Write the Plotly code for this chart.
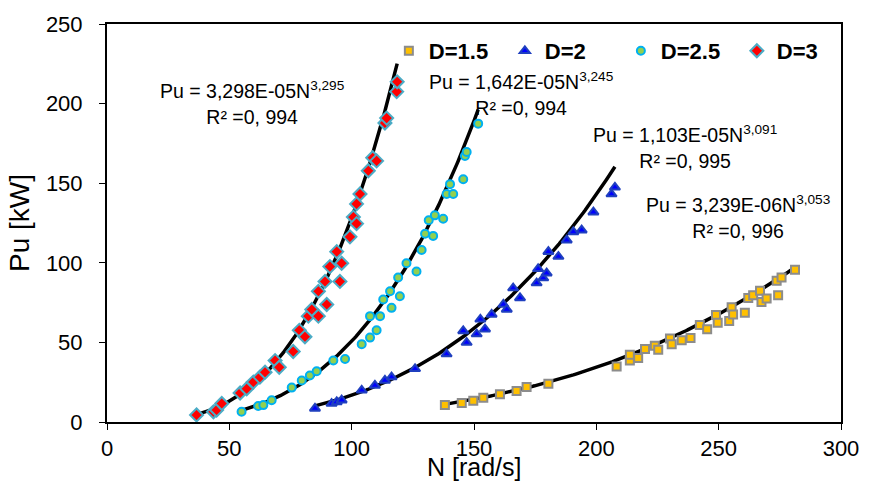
import numpy as np
import plotly.graph_objects as go

# ---- data ----
n_15 = [138.1, 145.0, 149.7, 153.8, 160.6, 167.4, 171.5, 180.4, 208.3, 213.7, 213.7, 217.1, 219.9,
        223.9, 225.3, 230.1, 230.8, 234.9, 238.5, 242.3, 245.3, 248.9, 249.6, 254.3, 255.3, 255.9,
        260.7, 262.1, 264.1, 266.9, 267.5, 269.6, 274.3, 273.7, 275.7, 281.2]
p_15 = [10.6, 12.0, 13.3, 15.3, 17.4, 19.5, 22.0, 24.0, 34.8, 38.6, 42.3, 40.2, 45.8,
        47.9, 45.4, 52.4, 48.9, 51.4, 52.7, 60.9, 58.2, 67.2, 62.4, 63.4, 72.1, 67.6,
        68.6, 77.9, 79.6, 82.5, 75.4, 77.5, 79.6, 88.7, 90.8, 95.6]

n_2 = [85.0, 91.8, 93.9, 95.9, 104.1, 109.5, 113.6, 116.3, 125.9, 138.8, 145.6, 147.0, 151.1,
       152.6, 154.5, 157.2, 162.0, 163.4, 166.0, 168.8, 175.6, 176.2, 178.3, 179.7, 180.4,
       184.5, 187.9, 190.6, 194.0, 198.8, 206.2, 207.6]
p_2 = [8.5, 11.6, 12.6, 13.7, 19.9, 23.0, 26.1, 28.2, 33.4, 42.7, 57.2, 49.9, 55.2,
       64.5, 58.3, 67.6, 73.8, 70.7, 84.1, 77.9, 87.3, 96.2, 90.4, 93.5, 107.0,
       103.9, 114.2, 119.4, 120.5, 131.8, 143.2, 147.4]

n_25 = [55.0, 61.8, 63.9, 67.3, 75.5, 79.6, 82.9, 85.7, 92.5, 97.3, 104.1, 107.5, 107.5, 110.2,
        111.6, 112.9, 115.7, 116.3, 119.7, 119.0, 122.4, 126.5, 128.6, 130.0, 131.5, 134.0,
        133.3, 137.4, 138.8, 140.2, 141.5, 145.6, 146.3, 147.0, 151.7]
p_25 = [6.4, 10.0, 10.6, 13.7, 21.6, 26.1, 29.2, 31.9, 38.6, 39.6, 48.9, 53.0, 66.5, 57.6,
        66.5, 76.9, 82.1, 71.7, 79.0, 90.8, 99.7, 94.5, 108.0, 118.3, 126.7, 129.8,
        116.9, 127.7, 143.2, 149.4, 143.2, 152.5, 167.1, 169.6, 187.4]

n_3 = [36.6, 43.5, 44.8, 46.9, 54.4, 57.1, 59.8, 62.5, 64.6, 68.7, 70.4, 76.1, 78.6, 80.9,
       82.3, 83.7, 86.4, 86.4, 89.1, 89.8, 91.1, 93.9, 95.2, 95.9, 99.3, 100.7, 102.0,
       103.4, 102.0, 106.8, 108.6, 110.2, 113.6, 114.3, 118.4, 118.6]
p_3 = [4.4, 6.4, 7.5, 11.6, 18.2, 20.9, 25.1, 28.2, 31.3, 38.6, 34.4, 44.3, 57.6, 53.5,
       66.5, 70.7, 82.1, 66.5, 88.3, 73.8, 97.6, 107.0, 88.3, 99.7, 116.3, 128.7, 124.6,
       143.2, 137.0, 157.8, 166.0, 164.0, 187.8, 190.9, 207.5, 213.7]

# power-law fits shown on the chart: Pu = a * N^b
fit_a = [3.239e-06, 1.103e-05, 1.642e-05, 3.298e-05]
fit_b = [3.053, 3.091, 3.245, 3.295]
fit_text = ["Pu = 3,239E-06N<sup>3,053</sup><br>R² =0, 996",
            "Pu = 1,103E-05N<sup>3,091</sup><br>R² =0, 995",
            "Pu = 1,642E-05N<sup>3,245</sup><br>R² =0, 994",
            "Pu = 3,298E-05N<sup>3,295</sup><br>R² =0, 994"]
fit_pos = [(258.0, 129.0), (236.2, 172.8), (169.6, 205.8), (59.5, 200.5)]

names = ["D=1.5", "D=2", "D=2.5", "D=3"]
xs = [n_15, n_2, n_25, n_3]
ys = [p_15, p_2, p_25, p_3]
symbols = ["square", "triangle-up", "circle", "diamond"]
fills = ["#FFC000", "#0000FF", "#92D050", "#FF0000"]
edges = ["#8C8C8C", "#1F3FBF", "#00B0F0", "#4BACC6"]
sizes = [8, 9, 8, 10]

FONT = "Liberation Sans, Arial, sans-serif"
fig = go.Figure()

# trendlines (not in legend)
for i in range(4):
    xx = np.linspace(min(xs[i]), max(xs[i]), 200)
    fig.add_trace(go.Scatter(x=xx, y=fit_a[i] * xx ** fit_b[i], mode="lines",
                             line=dict(color="black", width=3.5), showlegend=False,
                             hoverinfo="skip"))

for i in range(4):
    fig.add_trace(go.Scatter(x=xs[i], y=ys[i], mode="markers", name=names[i],
                             marker=dict(symbol=symbols[i], color=fills[i], size=sizes[i],
                                         line=dict(color=edges[i], width=2))))

for i in range(4):
    fig.add_annotation(x=fit_pos[i][0], y=fit_pos[i][1], xref="x", yref="y",
                       text=fit_text[i], showarrow=False, align="center",
                       font=dict(family=FONT, size=19.5, color="black"))

# x-axis title placed as paper annotation to sit close to the tick labels
fig.add_annotation(x=0.5, y=-0.113, xref="paper", yref="paper", text="N [rad/s]",
                   showarrow=False, xanchor="center", yanchor="middle",
                   font=dict(family=FONT, size=25, color="black"))

axis_common = dict(showgrid=False, zeroline=False, showline=True, linecolor="black",
                   linewidth=2, mirror=True, ticks="outside", ticklen=6, tickcolor="black",
                   tickwidth=1, tickfont=dict(family=FONT, size=22, color="black"))

fig.update_xaxes(range=[0, 300], dtick=50, tick0=0, **axis_common)
fig.update_yaxes(range=[0, 250], dtick=50, tick0=0, ticklabelstandoff=12,
                 title=dict(text="Pu [kW]", font=dict(family=FONT, size=28, color="black"),
                            standoff=8),
                 **axis_common)

fig.update_layout(
    width=876, height=492,
    margin=dict(l=107, r=35, t=20, b=70),
    paper_bgcolor="white", plot_bgcolor="white",
    showlegend=True,
    legend=dict(orientation="h", x=0.384, xanchor="left", y=0.985, yanchor="top",
                font=dict(family=FONT, size=22, color="black", weight="bold"),
                bgcolor="rgba(0,0,0,0)", itemwidth=30, entrywidth=71,
                entrywidthmode="pixels", tracegroupgap=0),
)

fig.write_html("out.html")
